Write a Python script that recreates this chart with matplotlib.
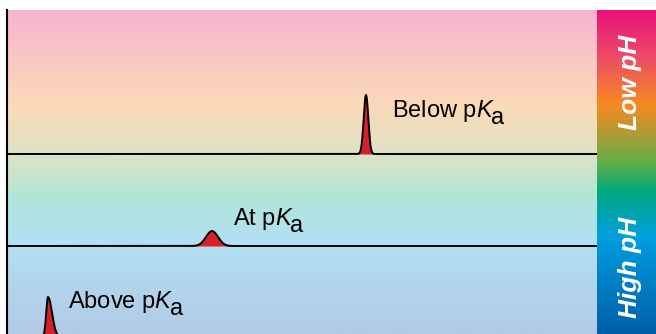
import numpy as np
import matplotlib.pyplot as plt
from matplotlib.colors import LinearSegmentedColormap

plt.rcParams['font.family'] = ['Liberation Sans', 'DejaVu Sans']
plt.rcParams['mathtext.fontset'] = 'custom'
plt.rcParams['mathtext.rm'] = 'Liberation Sans'
plt.rcParams['mathtext.it'] = 'Liberation Sans:italic'

# peaks (x position, baseline, height, left/right width) in panel units
labels = ['Below p$K$', 'At p$K$', 'Above p$K$']
sub_label = 'a'
peak_x = [359, 205, 41]
baselines = [180, 88, -3]
peak_h = [59, 15, 40]
sig_left = [2.3, 6.0, 1.8]
sig_right = [2.3, 6.0, 4.0]
label_x = [385, 226, 61]
label_y = [217, 109, 26]
side_labels = ['Low pH', 'High pH']
side_y = [252, 67]

bg = LinearSegmentedColormap.from_list('bg', [
    (0.0, '#b2cae6'), (0.29, '#b3e0f2'), (0.42, '#b1e4d9'),
    (0.52, '#d2e5c8'), (0.60, '#e8e0c0'), (0.71, '#fbdab8'), (1.0, '#f8b4d0')])
bar = LinearSegmentedColormap.from_list('bar', [
    (0.0, '#005ea9'), (0.30, '#009fe0'), (0.44, '#00a87c'),
    (0.53, '#64ae48'), (0.61, '#aa9d38'), (0.71, '#f68a20'),
    (0.86, '#ee4a68'), (1.0, '#e8127a')])

fig = plt.figure(figsize=(6.56, 3.34), dpi=100)
ax = fig.add_axes([7 / 656, 0, 590 / 656, 324 / 334])
ax.imshow(np.linspace(0, 1, 300).reshape(-1, 1), cmap=bg, origin='lower',
          aspect='auto', extent=(0, 590, 0, 324), zorder=0)
ax.set_xlim(0, 590)
ax.set_ylim(0, 324)
ax.set_xticks([])
ax.set_yticks([])
for s in ['top', 'right', 'bottom']:
    ax.spines[s].set_visible(False)
ax.spines['left'].set_linewidth(1.5)

x = np.linspace(0, 590, 3000)
for i in range(3):
    sig = np.where(x < peak_x[i], sig_left[i], sig_right[i])
    y = baselines[i] + peak_h[i] * np.exp(-0.5 * ((x - peak_x[i]) / sig) ** 2)
    ax.fill_between(x, baselines[i], y, color='#d7202a', lw=0, zorder=2)
    ax.plot(x, y, color='black', lw=1.4, zorder=3)
    t = ax.text(label_x[i], label_y[i], labels[i], fontsize=17, va='baseline', ha='left')
    ax.annotate(sub_label, xy=(1, 0), xycoords=t, xytext=(-2.5, 0),
                textcoords='offset points', fontsize=17, va='baseline', ha='left')

cax = fig.add_axes([597 / 656, 0, 59 / 656, 324 / 334])
cax.imshow(np.linspace(0, 1, 300).reshape(-1, 1), cmap=bar, origin='lower',
           aspect='auto', extent=(0, 59, 0, 324))
cax.set_xlim(0, 59)
cax.set_ylim(0, 324)
cax.axis('off')
for lab, yy in zip(side_labels, side_y):
    cax.text(33, yy, lab, rotation=90, ha='center', va='center', color='white',
             fontsize=19, fontweight='bold', fontstyle='italic')

fig.savefig('out.png', dpi=100)
